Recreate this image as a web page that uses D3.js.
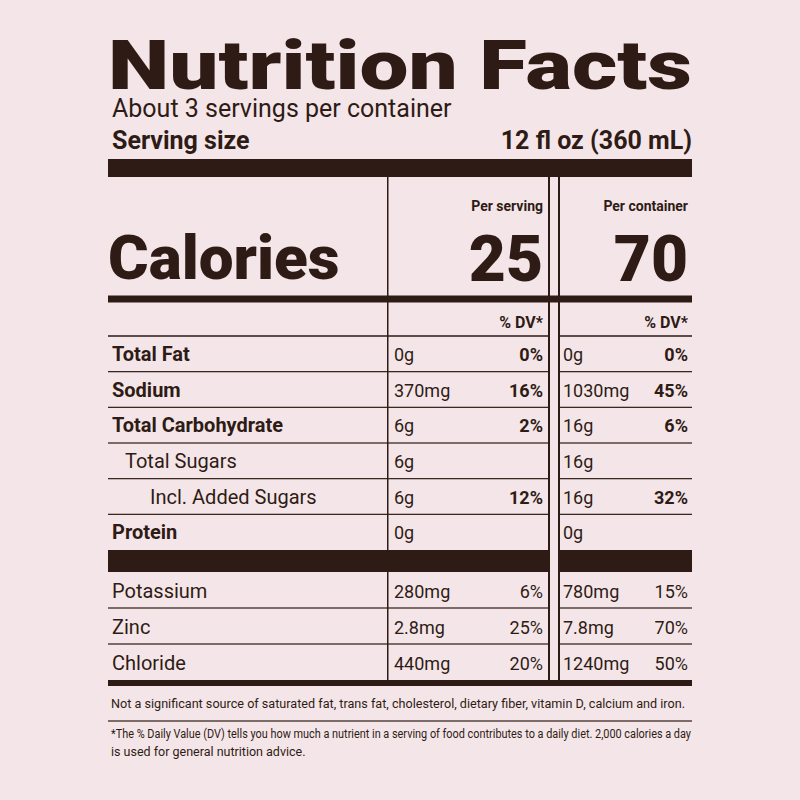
<!DOCTYPE html>
<html><head><meta charset="utf-8">
<script src="https://cdn.jsdelivr.net/npm/d3@7"></script>
<style>body{margin:0;background:#f4e6e8}</style>
</head><body><svg id="c" width="800" height="800"></svg>
<script>
const nutrients = ["Total Fat","Sodium","Total Carbohydrate","Total Sugars","Incl. Added Sugars","Protein"];
const bold = [true,true,true,false,false,true];
const indent = [0,0,0,1,2,0];
const perServing = ["0g","370mg","6g","6g","6g","0g"];
const dvServing = ["0%","16%","2%","","12%",""];
const perContainer = ["0g","1030mg","16g","16g","16g","0g"];
const dvContainer = ["0%","45%","6%","","32%",""];
const minerals = ["Potassium","Zinc","Chloride"];
const minServing = ["280mg","2.8mg","440mg"];
const minDvServing = ["6%","25%","20%"];
const minContainer = ["780mg","7.8mg","1240mg"];
const minDvContainer = ["15%","70%","50%"];
const calories = [25, 70];

const ink = "#2f1b15", F = "Roboto, 'Liberation Sans', sans-serif";
const svg = d3.select("#c");
svg.append("rect").attr("width",800).attr("height",800).attr("fill","#f4e6e8");
const L = 108, R = 692, c1 = 388, c1r = 549, c2 = 559;
const line = (x1,x2,y,w) => svg.append("rect").attr("x",x1).attr("width",x2-x1).attr("y",y-w/2).attr("height",w).attr("fill",ink);
const rowLine = (y,w) => { line(L,c1r,y,w); line(c2,R,y,w); };
const text = (t,x,y,s,wt,anchor) => svg.append("text").text(t).attr("x",x).attr("y",y).attr("font-size",s)
  .attr("font-weight",wt||"normal").attr("text-anchor",anchor||"start").attr("fill",ink).attr("font-family",F);

text("Nutrition Facts",L,89,68,900).attr("textLength",R-L).attr("lengthAdjust","spacingAndGlyphs");
text("About 3 servings per container",L+4,117,25);
text("Serving size",L+4,149,25,"bold");
text("12 fl oz (360 mL)",R,149,25,"bold","end");
line(L,R,168,18);

// columns
svg.append("rect").attr("x",c1-1).attr("y",177).attr("width",1.5).attr("height",506).attr("fill",ink);
svg.append("rect").attr("x",c1r-1).attr("y",177).attr("width",2).attr("height",506).attr("fill",ink);
svg.append("rect").attr("x",c2-1).attr("y",177).attr("width",2).attr("height",506).attr("fill",ink);
text("Per serving",543,211,14,"bold","end");
text("Per container",688,211,14,"bold","end");
text("Calories",L,279,62,900);
text(calories[0],543,281,64,900,"end");
text(calories[1],688,281,64,900,"end");
line(L,R,299,7);
text("% DV*",543,328,16,"bold","end");
text("% DV*",688,328,16,"bold","end");
rowLine(336,1.5);

const y = d3.scaleBand().domain(nutrients).range([336,550]);
nutrients.forEach((n,i) => {
  const b = y(n)+y.bandwidth()/2+7;
  text(n,L+4+indent[i]*13+(indent[i]==2?12:0),b,20,bold[i]?"bold":"normal");
  text(perServing[i],c1+6,b,18); text(dvServing[i],543,b,18,"bold","end");
  text(perContainer[i],c2+4,b,18); text(dvContainer[i],688,b,18,"bold","end");
  if (i<nutrients.length-1) rowLine(y(n)+y.bandwidth(),1.2);
});
rowLine(561,22);
const y2 = d3.scaleBand().domain(minerals).range([572,680]);
minerals.forEach((n,i) => {
  const b = y2(n)+y2.bandwidth()/2+8;
  text(n,L+4,b,20);
  text(minServing[i],c1+6,b,18); text(minDvServing[i],543,b,18,"normal","end");
  text(minContainer[i],c2+4,b,18); text(minDvContainer[i],688,b,18,"normal","end");
  if (i<minerals.length-1) rowLine(y2(n)+y2.bandwidth(),1.2);
});
line(L,R,683,6);
text("Not a significant source of saturated fat, trans fat, cholesterol, dietary fiber, vitamin D, calcium and iron.",L+3,708,12.5)
  .attr("textLength",574).attr("lengthAdjust","spacingAndGlyphs");
line(L,R,721,1.2);
text("*The % Daily Value (DV) tells you how much a nutrient in a serving of food contributes to a daily diet. 2,000 calories a day",L+3,738,12.5)
  .attr("textLength",580).attr("lengthAdjust","spacingAndGlyphs");
text("is used for general nutrition advice.",L+3,756,12.5);
</script></body></html>
